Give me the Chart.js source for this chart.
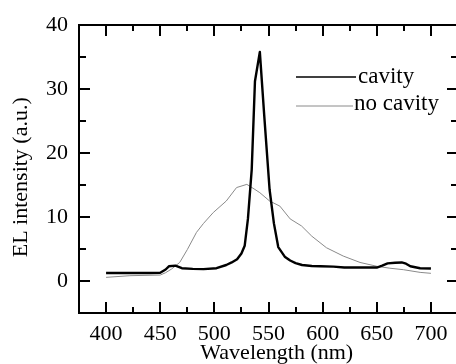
<!DOCTYPE html>
<html>
<head>
<meta charset="utf-8">
<script src="https://cdn.jsdelivr.net/npm/chart.js@4"></script>
<style>
  html, body { margin: 0; padding: 0; background: #fff; overflow: hidden; }
  #wrap { width: 460px; height: 364px; }
</style>
</head>
<body>
<div id="wrap"><canvas id="elChart" width="460" height="364"></canvas></div>
<script>
const cavityWl = [400, 420, 440, 450, 455, 458, 464, 470, 480, 490, 502, 511, 516, 521, 525, 528, 531, 534.5, 537.5, 542, 546, 551, 555, 559, 565, 570, 575, 581, 590, 598, 610, 620, 635, 650, 655, 660, 667, 673, 677, 681, 690, 700];
const cavityEl = [1.25, 1.25, 1.25, 1.3, 1.8, 2.3, 2.4, 2.0, 1.9, 1.85, 2.0, 2.5, 2.9, 3.4, 4.3, 5.5, 9.7, 17.4, 31.2, 35.8, 26, 14.3, 9, 5.3, 3.8, 3.2, 2.8, 2.5, 2.35, 2.3, 2.25, 2.1, 2.1, 2.1, 2.4, 2.75, 2.85, 2.9, 2.7, 2.3, 2.0, 1.95];
const noCavityWl = [400, 422, 450, 455, 460.5, 468, 475, 483.5, 490, 499, 511, 520.5, 530, 537.5, 542, 551, 560.5, 570, 580.5, 590, 603.5, 619, 634.5, 650, 662, 674.5, 690, 700];
const noCavityEl = [0.57, 0.83, 0.93, 1.3, 1.87, 2.9, 4.9, 7.6, 9.0, 10.7, 12.5, 14.6, 15.1, 14.3, 13.8, 12.5, 11.7, 9.7, 8.6, 7.0, 5.2, 3.9, 2.9, 2.3, 2.0, 1.77, 1.35, 1.2];
const xTicks = [400, 450, 500, 550, 600, 650, 700];
const yTicks = [0, 10, 20, 30, 40];

const serif = '"Liberation Serif", "Times New Roman", serif';

// inward ticks, box frame and the in-plot legend
const frameTicks = {
  id: 'frameTicks',
  afterDraw(chart) {
    const c = chart.ctx, a = chart.chartArea;
    const xs = chart.scales.x, ys = chart.scales.y;
    c.save();
    c.strokeStyle = '#000';
    c.lineWidth = 2;
    c.beginPath();
    for (let v = 400; v <= 700; v += 25) {
      const px = Math.round(xs.getPixelForValue(v));
      const len = v % 50 === 0 ? 11 : 6;
      c.moveTo(px, a.bottom); c.lineTo(px, a.bottom - len);
      c.moveTo(px, a.top); c.lineTo(px, a.top + len);
    }
    for (let v = 0; v <= 35; v += 5) {
      const py = Math.round(ys.getPixelForValue(v));
      const len = v % 10 === 0 ? 11 : 7;
      c.moveTo(a.left, py); c.lineTo(a.left + len, py);
      c.moveTo(a.right, py); c.lineTo(a.right - len, py);
    }
    c.stroke();
    c.strokeRect(a.left, a.top, a.right - a.left, a.bottom - a.top);

    // legend
    const ds = chart.data.datasets;
    const rows = [{ y: 77, tx: 358, ty: 83, x2: 356 }, { y: 106, tx: 354, ty: 110, x2: 353 }];
    c.font = '23px ' + serif;
    c.fillStyle = '#000';
    c.textBaseline = 'alphabetic';
    ds.forEach((d, i) => {
      const r = rows[i];
      c.strokeStyle = d.borderColor;
      c.lineWidth = i === 0 ? 1.6 : 1;
      c.beginPath();
      c.moveTo(296, r.y); c.lineTo(r.x2, r.y);
      c.stroke();
      c.fillText(d.label, r.tx, r.ty);
    });
    c.restore();
  }
};

new Chart(document.getElementById('elChart'), {
  type: 'line',
  data: {
    datasets: [{
      label: 'cavity',
      data: cavityWl.map((w, i) => ({ x: w, y: cavityEl[i] })),
      borderColor: '#000',
      borderWidth: 2.4,
      borderJoinStyle: 'round',
      pointRadius: 0,
      tension: 0
    }, {
      label: 'no cavity',
      data: noCavityWl.map((w, i) => ({ x: w, y: noCavityEl[i] })),
      borderColor: '#8a8a8a',
      borderWidth: 1,
      pointRadius: 0,
      tension: 0
    }]
  },
  options: {
    responsive: false,
    animation: false,
    events: [],
    layout: { padding: { left: 0, right: 2, top: 25, bottom: 0 } },
    plugins: { legend: { display: false }, tooltip: { enabled: false } },
    scales: {
      x: {
        type: 'linear',
        min: 375,
        max: 725,
        afterBuildTicks: s => { s.ticks = xTicks.map(v => ({ value: v })); },
        afterFit: s => { s.height = 51; },
        grid: { display: false, drawTicks: false },
        border: { display: false },
        ticks: { color: '#000', padding: 8, maxRotation: 0, font: { family: serif, size: 22 } },
        title: {
          display: true,
          text: '\u00a0\u00a0\u00a0Wavelength (nm)',
          color: '#000',
          padding: { top: 0, bottom: 0 },
          font: { family: serif, size: 22, lineHeight: 0.95 }
        }
      },
      y: {
        min: -5,
        max: 40,
        afterBuildTicks: s => { s.ticks = yTicks.map(v => ({ value: v })); },
        afterFit: s => { s.width = 79; },
        grid: { display: false, drawTicks: false },
        border: { display: false },
        ticks: { color: '#000', padding: 11, font: { family: serif, size: 22 } },
        title: {
          display: true,
          text: 'EL intensity (a.u.)\u00a0\u00a0\u00a0',
          color: '#000',
          padding: { top: 10, bottom: 0 },
          font: { family: serif, size: 22, lineHeight: 1.0 }
        }
      }
    }
  },
  plugins: [frameTicks]
});
</script>
</body>
</html>
